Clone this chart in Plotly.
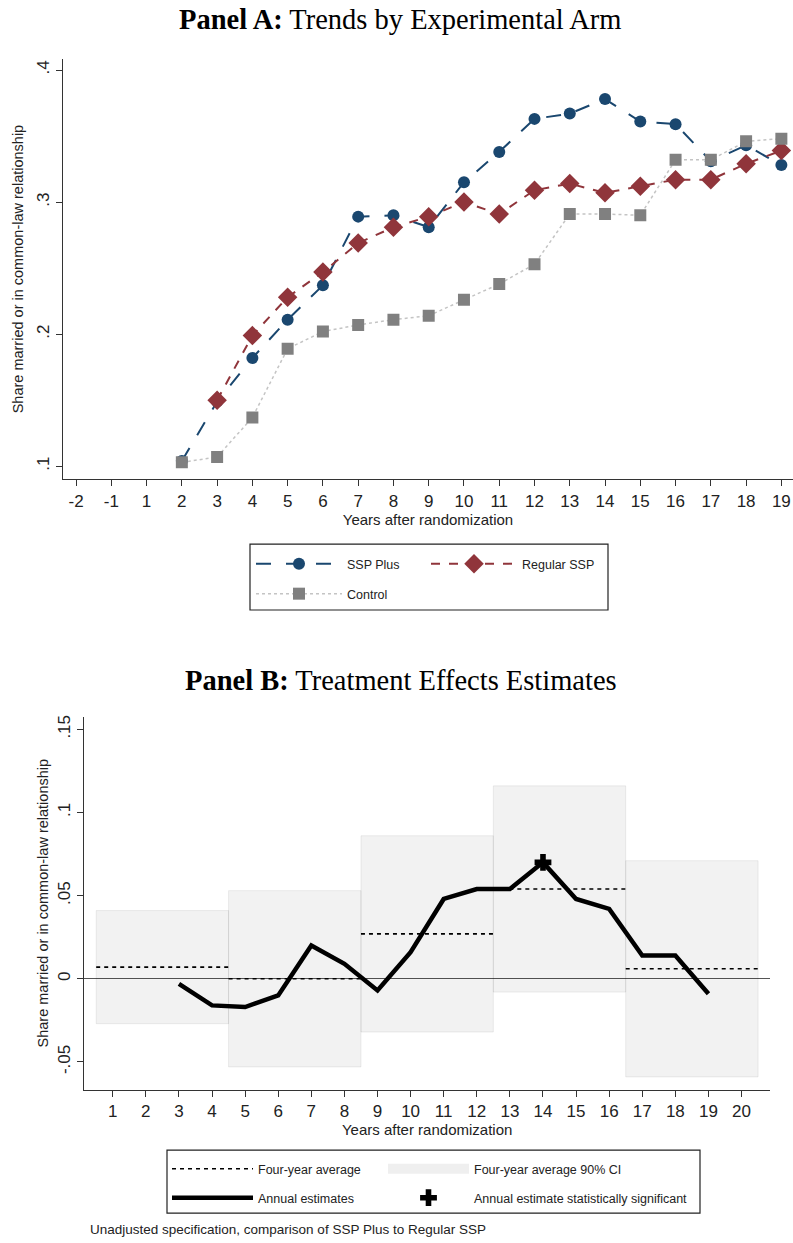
import plotly.graph_objects as go

W, H = 793, 1243

# ---------------- Panel A data ----------------
tick_labels_a = ["-2", "-1"] + [str(i) for i in range(1, 20)]
years_plus = list(range(2, 20))
ssp_plus = [0.104, 0.149, 0.182, 0.211, 0.237, 0.289, 0.290, 0.281, 0.315,
            0.338, 0.363, 0.367, 0.378, 0.361, 0.359, 0.331, 0.343, 0.328]
years_regular = list(range(3, 20))
regular_ssp = [0.150, 0.199, 0.228, 0.247, 0.269, 0.281, 0.289, 0.300, 0.291,
               0.309, 0.314, 0.307, 0.312, 0.317, 0.317, 0.329, 0.339]
years_control = list(range(2, 20))
control = [0.103, 0.107, 0.137, 0.189, 0.202, 0.207, 0.211, 0.214, 0.226,
           0.238, 0.253, 0.291, 0.291, 0.290, 0.332, 0.332, 0.346, 0.348]
yticks_a = [0.1, 0.2, 0.3, 0.4]
yticktext_a = [".1", ".2", ".3", ".4"]

# ---------------- Panel B data ----------------
years_b = list(range(3, 20))
annual = [-0.003, -0.016, -0.017, -0.010, 0.020, 0.009, -0.007, 0.016, 0.048,
          0.054, 0.054, 0.070, 0.048, 0.042, 0.014, 0.014, -0.009]
block_first = [1, 5, 9, 13, 17]
block_last = [4, 8, 12, 16, 20]
block_avg = [0.007, 0.000, 0.027, 0.054, 0.006]
block_lo = [-0.027, -0.053, -0.032, -0.008, -0.059]
block_hi = [0.041, 0.053, 0.086, 0.116, 0.071]
sig_years = [14]
sig_values = [0.070]
xticks_b = list(range(1, 21))
yticks_b = [-0.05, 0, 0.05, 0.1, 0.15]
yticktext_b = ["-.05", "0", ".05", ".1", ".15"]

SANS = "Liberation Sans, Arial, sans-serif"
SERIF = "Liberation Serif, Times New Roman, serif"
AX = "#333333"

fig = go.Figure()

# Panel A traces
fig.add_trace(go.Scatter(
    x=[str(y) for y in years_plus], y=ssp_plus, name="SSP Plus",
    mode="lines+markers", xaxis="x", yaxis="y",
    line=dict(color="#1a476f", width=2, dash="longdash"),
    marker=dict(symbol="circle", size=12, color="#1a476f"),
    legend="legend"))
fig.add_trace(go.Scatter(
    x=[str(y) for y in years_regular], y=regular_ssp, name="Regular SSP",
    mode="lines+markers", xaxis="x", yaxis="y",
    line=dict(color="#90353b", width=2, dash="dash"),
    marker=dict(symbol="diamond", size=15, color="#90353b"),
    legend="legend"))
fig.add_trace(go.Scatter(
    x=[str(y) for y in years_control], y=control, name="Control",
    mode="lines+markers", xaxis="x", yaxis="y",
    line=dict(color="#c4c4c4", width=1.5, dash="dot"),
    marker=dict(symbol="square", size=12, color="#808080"),
    legend="legend2"))

# Panel B traces: CI boxes
bx, by = [], []
for f, l, lo, hi in zip(block_first, block_last, block_lo, block_hi):
    x0, x1 = f - 0.5, l + 0.5
    bx += [x0, x1, x1, x0, x0, None]
    by += [lo, lo, hi, hi, lo, None]
fig.add_trace(go.Scatter(
    x=bx, y=by, mode="lines", fill="toself", xaxis="x2", yaxis="y2",
    fillcolor="rgba(0,0,0,0.05)", line=dict(color="rgba(0,0,0,0.07)", width=1),
    showlegend=False, hoverinfo="skip"))

# four-year averages
ax_, ay_ = [], []
for f, l, a in zip(block_first, block_last, block_avg):
    ax_ += [f - 0.5, l + 0.5, None]
    ay_ += [a, a, None]
fig.add_trace(go.Scatter(
    x=ax_, y=ay_, mode="lines", name="Four-year average", xaxis="x2", yaxis="y2",
    line=dict(color="black", width=1.6, dash="4px,4px"), legend="legend3"))
# legend key for CI
fig.add_trace(go.Scatter(
    x=[None], y=[None], mode="lines", name="Four-year average 90% CI",
    xaxis="x2", yaxis="y2", line=dict(color="#efefef", width=14),
    legend="legend3", legendwidth=220))
fig.add_trace(go.Scatter(
    x=years_b, y=annual, mode="lines", name="Annual estimates", xaxis="x2", yaxis="y2",
    line=dict(color="black", width=4.5), legend="legend4"))
fig.add_trace(go.Scatter(
    x=sig_years, y=sig_values, mode="markers",
    name="Annual estimate statistically significant", xaxis="x2", yaxis="y2",
    marker=dict(symbol="cross", size=14, color="black"), legend="legend4",
    legendwidth=230))


def px_x(p):
    return p / W


def px_y(p):
    return 1 - p / H


tickfont = dict(family=SANS, size=17, color="#222")
titlefont = dict(family=SANS, size=15, color="#222")

fig.update_layout(
    width=W, height=H, margin=dict(l=0, r=0, t=0, b=0),
    paper_bgcolor="white", plot_bgcolor="white",
    xaxis=dict(domain=[px_x(63), 1.0], type="category",
               categoryorder="array", categoryarray=tick_labels_a,
               tickvals=tick_labels_a, range=[-0.37, 20.33],
               showline=True, linecolor=AX, linewidth=1.3, ticks="outside",
               ticklen=6, tickcolor=AX, showgrid=False, zeroline=False,
               tickfont=tickfont,
               title=dict(text="Years after randomization", font=titlefont, standoff=4)),
    yaxis=dict(domain=[px_y(478), px_y(57)], range=[0.0902, 0.4084],
               tickvals=yticks_a, ticktext=yticktext_a, tickangle=-90,
               showline=True, linecolor=AX, linewidth=1.3, ticks="outside",
               ticklen=6, tickcolor=AX, showgrid=False, zeroline=False,
               tickfont=tickfont,
               title=dict(text="Share married or in common-law relationship",
                          font=dict(family=SANS, size=14.5, color="#222"), standoff=6)),
    xaxis2=dict(domain=[px_x(84.3), px_x(770)], range=[0.14, 20.86],
                tickvals=xticks_b, anchor="y2",
                showline=True, linecolor=AX, linewidth=1.3, ticks="outside",
                ticklen=6, tickcolor=AX, showgrid=False, zeroline=False,
                tickfont=tickfont,
                title=dict(text="Years after randomization", font=titlefont, standoff=4)),
    yaxis2=dict(domain=[px_y(1089.3), px_y(716)], range=[-0.0666, 0.1575],
                anchor="x2",
                tickvals=yticks_b, ticktext=yticktext_b, tickangle=-90,
                showline=True, linecolor=AX, linewidth=1.3, ticks="outside",
                ticklen=6, tickcolor=AX, showgrid=False,
                zeroline=True, zerolinecolor="#555555", zerolinewidth=1,
                tickfont=tickfont,
                title=dict(text="Share married or in common-law relationship",
                           font=dict(family=SANS, size=14.5, color="#222"), standoff=3)),
    showlegend=True,
)

legfont = dict(family=SANS, size=12.5, color="#222")
common_leg = dict(orientation="h", xanchor="left", yanchor="middle",
                  bgcolor="rgba(0,0,0,0)", borderwidth=0, font=legfont,
                  traceorder="normal", itemclick=False, itemdoubleclick=False)
fig.update_layout(
    legend=dict(**common_leg, x=px_x(251), y=px_y(563), itemwidth=86,
                entrywidth=74),
    legend2=dict(**common_leg, x=px_x(251), y=px_y(593), itemwidth=86,
                 entrywidth=74),
    legend3=dict(**common_leg, x=px_x(167), y=px_y(1169), itemwidth=81,
                 entrywidth=120),
    legend4=dict(**common_leg, x=px_x(167), y=px_y(1198), itemwidth=81,
                 entrywidth=120),
)

# legend frames
fig.add_shape(type="rect", xref="paper", yref="paper",
              x0=px_x(250), x1=px_x(608), y0=px_y(609), y1=px_y(543),
              line=dict(color="#222", width=1.2), fillcolor="rgba(0,0,0,0)")
fig.add_shape(type="rect", xref="paper", yref="paper",
              x0=px_x(167), x1=px_x(700), y0=px_y(1213), y1=px_y(1150),
              line=dict(color="#222", width=1.2), fillcolor="rgba(0,0,0,0)")

# titles and note
fig.add_annotation(text="<b>Panel A:</b> Trends by Experimental Arm",
                   xref="paper", yref="paper", x=px_x(400), y=px_y(18),
                   xanchor="center", yanchor="middle", showarrow=False,
                   font=dict(family=SERIF, size=28.5, color="black"))
fig.add_annotation(text="<b>Panel B:</b> Treatment Effects Estimates",
                   xref="paper", yref="paper", x=px_x(401), y=px_y(680),
                   xanchor="center", yanchor="middle", showarrow=False,
                   font=dict(family=SERIF, size=28.5, color="black"))
fig.add_annotation(text="Unadjusted specification, comparison of SSP Plus to Regular SSP",
                   xref="paper", yref="paper", x=px_x(88), y=px_y(1229),
                   xanchor="left", yanchor="middle", showarrow=False,
                   font=dict(family=SANS, size=13.5, color="#222"))

fig.write_html("out.html", config={"displayModeBar": False},
               post_script="document.body.style.margin='0';document.body.style.overflow='hidden';")
